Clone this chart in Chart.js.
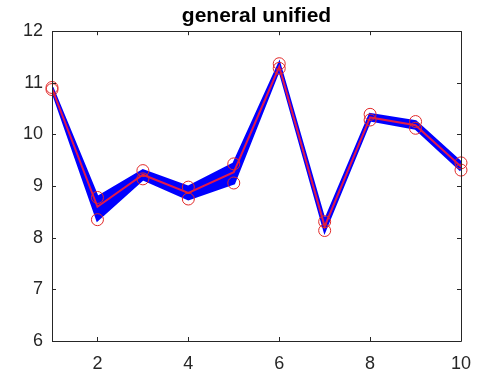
<!DOCTYPE html>
<html>
<head>
<meta charset="utf-8">
<script src="https://cdn.jsdelivr.net/npm/chart.js@4/dist/chart.umd.min.js"></script>
<style>
  html, body { margin: 0; padding: 0; background: #fff; }
  #wrap { width: 484px; height: 376px; }
</style>
</head>
<body>
<div id="wrap"><canvas id="grafico" width="484" height="376"></canvas></div>
<script>
const xValues = [1, 2, 3, 4, 5, 6, 7, 8, 9, 10];
const upperValues = [10.91, 8.78, 9.30, 8.98, 9.43, 11.37, 8.31, 10.39, 10.25, 9.45];
const lowerValues = [10.87, 8.35, 9.14, 8.75, 9.06, 11.28, 8.14, 10.28, 10.12, 9.31];
const meanValues = [10.89, 8.60, 9.22, 8.87, 9.27, 11.31, 8.22, 10.33, 10.18, 9.38];
const xTicks = [2, 4, 6, 8, 10];
const xTickLabels = ['2', '4', '6', '8', '10'];
const yTicks = [6, 7, 8, 9, 10, 11, 12];
const yTickLabels = ['6', '7', '8', '9', '10', '11', '12'];
const titulo = 'general unified';

const eixoCor = '#262626';

function pontos(valores) {
    return xValues.map((x, i) => ({ x: x, y: valores[i] }));
}

// box around the axes with inward ticks on all four sides (MATLAB look)
const caixa = {
    id: 'caixa',
    afterDraw(chart) {
        const ctx = chart.ctx;
        const a = chart.chartArea;
        const sx = chart.scales.x;
        const sy = chart.scales.y;
        const tl = 4;
        ctx.save();
        ctx.strokeStyle = eixoCor;
        ctx.lineWidth = 1;
        ctx.beginPath();
        ctx.rect(Math.round(a.left) + 0.5, Math.round(a.top) + 0.5,
            Math.round(a.right - a.left), Math.round(a.bottom - a.top));
        xTicks.forEach(v => {
            const px = Math.round(sx.getPixelForValue(v)) + 0.5;
            ctx.moveTo(px, a.bottom);
            ctx.lineTo(px, a.bottom - tl);
            ctx.moveTo(px, a.top);
            ctx.lineTo(px, a.top + tl);
        });
        yTicks.forEach(v => {
            const py = Math.round(sy.getPixelForValue(v)) + 0.5;
            ctx.moveTo(a.left, py);
            ctx.lineTo(a.left + tl, py);
            ctx.moveTo(a.right, py);
            ctx.lineTo(a.right - tl, py);
        });
        ctx.stroke();
        ctx.restore();
    }
};

const ctx = document.getElementById('grafico').getContext('2d');
new Chart(ctx, {
    type: 'line',
    data: {
        datasets: [
            {
                label: 'upper',
                data: pontos(upperValues),
                borderColor: '#0000ff',
                backgroundColor: '#0000ff',
                borderWidth: 3,
                pointRadius: 0,
                fill: '+1',
                tension: 0,
                order: 3
            },
            {
                label: 'lower',
                data: pontos(lowerValues),
                borderColor: '#0000ff',
                borderWidth: 3,
                pointRadius: 0,
                fill: false,
                tension: 0,
                order: 3
            },
            {
                label: 'mean',
                data: pontos(meanValues),
                borderColor: 'rgb(225,25,75)',
                borderWidth: 2,
                pointRadius: 0,
                fill: false,
                tension: 0,
                order: 1
            },
            {
                label: 'max',
                data: pontos(upperValues),
                showLine: false,
                pointRadius: 6,
                pointBorderWidth: 1,
                pointBorderColor: 'rgb(225,40,40)',
                pointBackgroundColor: 'rgba(0,0,0,0)',
                clip: false,
                order: 0
            },
            {
                label: 'min',
                data: pontos(lowerValues),
                showLine: false,
                pointRadius: 6,
                pointBorderWidth: 1,
                pointBorderColor: 'rgb(225,40,40)',
                pointBackgroundColor: 'rgba(0,0,0,0)',
                clip: false,
                order: 0
            }
        ]
    },
    options: {
        responsive: false,
        animation: false,
        events: [],
        layout: { padding: { left: 0, right: 23, top: 0, bottom: 0 } },
        plugins: {
            legend: { display: false },
            tooltip: { enabled: false },
            title: {
                display: true,
                text: titulo,
                fullSize: false,
                color: '#000',
                font: { family: 'Liberation Sans', size: 21, weight: 'bold' },
                padding: { top: 4, bottom: 2 }
            }
        },
        scales: {
            x: {
                type: 'linear',
                min: 1,
                max: 10,
                grid: { display: false, drawTicks: false },
                border: { display: false },
                afterBuildTicks: s => { s.ticks = xTicks.map(v => ({ value: v })); },
                afterFit: s => { s.height = 35; },
                ticks: {
                    autoSkip: false,
                    maxRotation: 0,
                    padding: 12,
                    color: eixoCor,
                    font: { family: 'Liberation Sans', size: 18 },
                    callback: v => xTickLabels[xTicks.indexOf(v)]
                }
            },
            y: {
                type: 'linear',
                min: 6,
                max: 12,
                grid: { display: false, drawTicks: false },
                border: { display: false },
                afterBuildTicks: s => { s.ticks = yTicks.map(v => ({ value: v })); },
                afterFit: s => { s.width = 52; },
                ticks: {
                    autoSkip: false,
                    padding: 9,
                    color: eixoCor,
                    font: { family: 'Liberation Sans', size: 18 },
                    callback: v => yTickLabels[yTicks.indexOf(v)]
                }
            }
        }
    },
    plugins: [caixa]
});
</script>
</body>
</html>
